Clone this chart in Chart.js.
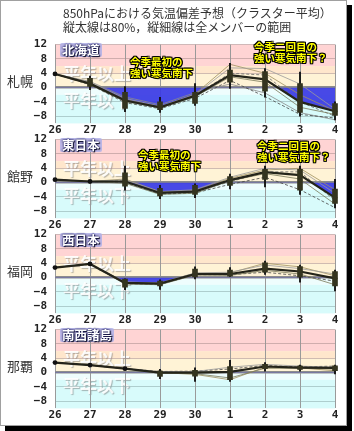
<!DOCTYPE html>
<html><head><meta charset="utf-8">
<script src="https://cdn.jsdelivr.net/npm/chart.js@4.4.0/dist/chart.umd.min.js"></script>
<style>
html,body{margin:0;padding:0;background:#fff;}
#frame{position:absolute;left:0;top:0;width:345px;height:424px;border:1px solid #a0a0a0;box-shadow:5px 5px 0 #000;background:#fff;}
canvas{position:absolute;left:0;}
.t{position:absolute;white-space:nowrap;font-family:"Noto Sans CJK JP",sans-serif;z-index:5;}
.title{left:63px;top:6px;font-size:12px;line-height:13.5px;color:#333;}
.st{font-size:13px;color:#333;line-height:14px;}
.rg{font-size:12.5px;font-weight:bold;color:#fff;background:rgba(176,176,232,0.85);padding:0 2px;line-height:14px;text-shadow:0 0 2px #1a1a5a,0 0 2px #1a1a5a,1px 1px 1px #000;border-radius:2px;}
.an{font-size:10.5px;font-weight:bold;color:#ffff00;line-height:11px;text-shadow:1px 0 0 #000,-1px 0 0 #000,0 1px 0 #000,0 -1px 0 #000,1px 1px 0 #000,-1px -1px 0 #000,1px -1px 0 #000,-1px 1px 0 #000;}
</style></head>
<body>
<div id="frame"></div>
<div class="t title">850hPaにおける気温偏差予想（クラスター平均）<br>縦太線は80%，縦細線は全メンバーの範囲</div>
<script>
// ---------- data ----------
const days = ['26','27','28','29','30','1','2','3','4'];
const yTickLabels = [12, 8, 4, 0, -4, -8];
const yGridValues = [12, 10, 8, 6, 4, 2, 0, -2, -4, -6, -8, -10];
const stations = ['札幌', '館野', '福岡', '那覇'];
const regions = ['北海道', '東日本', '西日本', '南西諸島'];
const aboveText = '平年以上';
const belowText = '平年以下';
const note1 = ['今季最初の', '強い寒気南下'];
const note2 = ['今季二回目の', '強い寒気南下？'];

const sapporoMean  = [3.8, 1.1, -3.6, -5.5, -2.3, 3.5, 2.3, -4.0, -6.6];
const sapporo80    = [null, [0.3, 2.6], [-5.8, -1.3], [-6.2, -4.0], [-4.4, -1.3], [1.5, 4.9], [-1.0, 4.5], [-6.9, 1.1], [-7.8, -4.5]];
const sapporoRange = [null, [-0.6, 3.2], [-6.7, 0.3], [-6.9, -2.7], [-5.0, 1.1], [-0.2, 6.8], [-2.7, 5.3], [-8.0, 4.3], [-9.0, -4.0]];
const sapporoMembers = [
  [3.8, 1.5, -3.0, -5.2, -2.0, 5.5, 5.3, 1.0, -6.0],
  [3.8, 0.9, -3.9, -5.7, -2.6, 3.0, 1.5, -5.5, -7.5],
  [3.8, 1.3, -3.3, -5.4, -1.8, 6.5, 4.0, -2.0, -6.5],
  [3.8, 0.8, -4.2, -5.9, -3.0, 2.0, -2.5, -7.5, -8.5],
  [3.8, 1.1, -3.5, -5.3, -2.2, 4.0, 3.5, -4.0, -8.0],
  [3.8, 1.7, -2.6, -4.8, -1.4, 1.0, -1.5, -7.0, -9.0]
];

const tatenoMean  = [0.8, 0.3, 0.3, -2.9, -2.5, 0.7, 2.9, 2.1, -4.2];
const tateno80    = [null, null, [-1.0, 2.7], [-3.7, -1.6], [-3.3, -0.8], [-0.8, 1.7], [0.9, 3.7], [-2.1, 3.7], [-5.8, -1.8]];
const tatenoRange = [null, null, [-2.1, 4.6], [-4.5, -0.8], [-4.2, 0.0], [-1.8, 2.4], [-1.2, 4.6], [-3.3, 4.6], [-7.1, 0.9]];
const tatenoMembers = [
  [0.8, 0.3, 0.8, -2.5, -2.0, 1.5, 4.0, 3.5, -3.0],
  [0.8, 0.3, -0.2, -3.3, -3.0, 0.5, 2.5, 1.0, -6.0],
  [0.8, 0.3, 1.0, -2.6, -2.2, 1.2, 3.5, 4.0, -2.0],
  [0.8, 0.3, 0.0, -3.2, -2.9, -0.5, 1.5, -2.0, -7.0],
  [0.8, 0.3, 0.5, -2.8, -2.4, 0.2, 3.0, 3.0, -5.0]
];

const fukuokaMean  = [2.8, 3.8, -1.5, -1.7, 1.0, 1.0, 2.5, 1.7, -0.2];
const fukuoka80    = [null, null, [-2.7, -0.4], [-2.3, -1.0], [0.2, 2.4], [0.4, 2.1], [1.5, 4.1], [0.1, 3.1], [-2.3, 1.7]];
const fukuokaRange = [null, null, [-3.4, 0.0], [-3.3, -0.6], [-0.4, 3.0], [0.0, 2.8], [0.9, 4.6], [-1.3, 3.5], [-3.7, 2.1]];
const fukuokaMembers = [
  [2.8, 3.8, -1.2, -1.5, 1.3, 1.5, 3.5, 2.5, 1.0],
  [2.8, 3.8, -1.8, -2.0, 0.7, 0.6, 2.0, 1.0, -2.0],
  [2.8, 3.8, -1.3, -1.5, 1.2, 1.3, 4.0, 3.0, 0.5],
  [2.8, 3.8, -1.7, -1.9, 0.8, 0.8, 1.5, 0.5, -1.0]
];

const nahaMean  = [2.8, 2.1, 1.1, 0.0, 0.0, 0.2, 1.7, 1.4, 1.3];
const naha80    = [null, null, null, [-1.1, 0.4], [-1.0, 0.6], [-2.0, 1.7], [1.1, 2.3], [0.9, 1.8], [0.5, 1.9]];
const nahaRange = [null, null, null, [-1.7, 0.9], [-2.5, 1.3], [-2.5, 3.4], [0.4, 2.8], [0.4, 2.1], [-0.4, 2.1]];
const nahaMembers = [
  [2.8, 2.1, 1.1, 0.2, 0.3, 1.5, 2.3, 1.8, 1.5],
  [2.8, 2.1, 1.1, -0.2, -0.3, -1.5, 1.2, 1.2, 1.0],
  [2.8, 2.1, 1.1, 0.0, -0.5, -2.0, 1.5, 1.3, 0.5],
  [2.8, 2.1, 1.1, 0.3, 0.4, 1.0, 2.0, 1.6, 1.8]
];

const panels = [
  {mean: sapporoMean, p80: sapporo80, range: sapporoRange, members: sapporoMembers},
  {mean: tatenoMean, p80: tateno80, range: tatenoRange, members: tatenoMembers},
  {mean: fukuokaMean, p80: fukuoka80, range: fukuokaRange, members: fukuokaMembers},
  {mean: nahaMean, p80: naha80, range: nahaRange, members: nahaMembers}
];

// ---------- styling ----------
const memberStyles = [
  {c: '#9a9a9a', d: []}, {c: '#7a7a5a', d: []}, {c: '#a09060', d: []},
  {c: '#444444', d: [3, 2]}, {c: '#666666', d: [3, 2]}, {c: '#8a8a8a', d: []}
];
const BANDS = [[12, 6, '#ffd4d4'], [6, 4, '#ffe6cc'], [4, 0, '#fff3d6'], [0, -2, '#eefdfd'], [-2, -10, '#d8fbfb']];
const notePos = [
  [[130, 56], [254, 41]],
  [[138, 149], [257, 140]],
  [], []
];
const tickFont = {family: 'DejaVu Sans Mono', size: 11, weight: 'bold'};

const bandPlugin = {
  id: 'bands',
  beforeDraw(chart) {
    const {ctx, chartArea: a, scales: {y}} = chart;
    ctx.save();
    for (const b of BANDS) {
      const y1 = y.getPixelForValue(b[0]), y2 = y.getPixelForValue(b[1]);
      ctx.fillStyle = b[2];
      ctx.fillRect(a.left, y1, a.right - a.left, y2 - y1);
    }
    const z = y.getPixelForValue(0);
    ctx.font = 'bold 17px "Noto Sans CJK JP"';
    ctx.textBaseline = 'middle';
    ctx.shadowColor = 'rgba(110,110,110,0.55)';
    ctx.shadowOffsetX = 1; ctx.shadowOffsetY = 1; ctx.shadowBlur = 1;
    ctx.fillStyle = 'rgba(255,255,255,0.9)';
    ctx.fillText(aboveText, 63, z - 14.5);
    ctx.fillText(belowText, 63, z + 13);
    ctx.restore();
  }
};

function fmt(v) { return v < 0 ? '\u2212' + Math.abs(v) : String(v); }

panels.forEach((p, i) => {
  const top = 30 + 95 * i;
  const cv = document.createElement('canvas');
  cv.width = 354; cv.height = 108;
  cv.style.top = top + 'px';
  document.body.appendChild(cv);

  const datasets = [];
  p.members.forEach((m, k) => {
    const s = memberStyles[k % memberStyles.length];
    datasets.push({type: 'line', data: m, borderColor: s.c, borderWidth: 0.8, borderDash: s.d,
      pointRadius: 0, fill: false, order: 5, clip: 8, tension: 0});
  });
  datasets.push({type: 'line', data: p.mean, borderColor: '#24241a', borderWidth: 2.2,
    pointRadius: 2.4, pointBackgroundColor: '#111', pointBorderColor: '#111', pointBorderWidth: 0,
    fill: {target: {value: 0}, above: 'rgba(0,0,0,0)', below: 'rgba(58,58,228,0.92)'}, order: 3, clip: 8, tension: 0});
  datasets.push({type: 'bar', data: p.range, backgroundColor: '#111', barThickness: 1.2, grouped: false, order: 2, clip: 8});
  datasets.push({type: 'bar', data: p.p80, backgroundColor: '#34341f', barThickness: 5, grouped: false, order: 1, clip: 8});

  new Chart(cv, {
    type: 'line',
    data: {labels: days, datasets},
    options: {
      responsive: false, animation: false,
      layout: {padding: {top: 7, right: 19, left: 0, bottom: 0}},
      plugins: {legend: {display: false}, tooltip: {enabled: false}, filler: {drawTime: 'beforeDatasetsDraw'}},
      scales: {
        x: {type: 'category', offset: false,
          grid: {offset: false, color: '#9a9a9a', lineWidth: 1, drawTicks: false},
          border: {display: false},
          ticks: {font: tickFont, color: '#222', padding: 0, maxRotation: 0, autoSkip: false},
          afterFit: s => { s.height = 14; }},
        y: {min: -10, max: 12,
          afterBuildTicks: s => { s.ticks = yGridValues.map(v => ({value: v})); },
          grid: {drawTicks: false,
            color: c => c.tick && c.tick.value === 0 ? '#8c8c8c' : (c.tick && c.tick.value > 0 ? 'rgba(170,140,140,0.55)' : 'rgba(140,170,170,0.55)'),
            lineWidth: c => c.tick && c.tick.value === 0 ? 2.5 : 1},
          border: {display: false},
          ticks: {font: tickFont, color: '#222', padding: 8,
            callback: v => yTickLabels.includes(v) ? fmt(v) : ''},
          afterFit: s => { s.width = 55; }}
      }
    },
    plugins: [bandPlugin]
  });

  const zero = top + 7 + 12 * 87 / 22;
  const st = document.createElement('div');
  st.className = 't st'; st.textContent = stations[i];
  st.style.left = '7px'; st.style.top = (zero - 10) + 'px';
  document.body.appendChild(st);

  const rg = document.createElement('div');
  rg.className = 't rg'; rg.textContent = regions[i];
  rg.style.left = '60px'; rg.style.top = (zero - 41) + 'px';
  document.body.appendChild(rg);

  notePos[i].forEach((pos, k) => {
    const n = document.createElement('div');
    n.className = 't an';
    const lines = k === 0 ? note1 : note2;
    n.innerHTML = lines.join('<br>');
    n.style.left = pos[0] + 'px'; n.style.top = pos[1] + 'px';
    document.body.appendChild(n);
  });
});
</script>
</body></html>
